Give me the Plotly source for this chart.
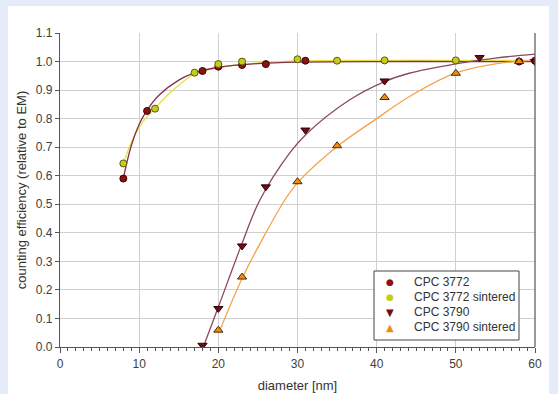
import plotly.graph_objects as go

# ---- data ----
cpc3772_x = [8, 11, 18, 20, 23, 26, 31, 58, 60]
cpc3772_y = [0.590, 0.827, 0.967, 0.982, 0.988, 0.991, 1.003, 1.000, 1.003]

cpc3772s_x = [8, 12, 17, 20, 23, 30, 35, 41, 50]
cpc3772s_y = [0.643, 0.835, 0.961, 0.991, 1.000, 1.008, 1.003, 1.004, 1.004]

cpc3790_x = [18, 20, 23, 26, 31, 41, 53, 60]
cpc3790_y = [0.006, 0.135, 0.354, 0.561, 0.760, 0.932, 1.014, 1.000]

cpc3790s_x = [20, 23, 30, 35, 41, 50, 58]
cpc3790s_y = [0.059, 0.245, 0.579, 0.705, 0.874, 0.959, 1.000]

# fitted curves
fit3772_x = [8, 9, 10, 11, 12.5, 15, 17, 20, 25, 30, 40, 50, 60]
fit3772_y = [0.591, 0.705, 0.780, 0.830, 0.882, 0.935, 0.960, 0.980, 0.993, 0.998, 1.000, 1.000, 1.000]

fit3772s_x = [8, 9.25, 10.5, 12, 14, 16.8, 20, 25, 30, 40, 50, 60]
fit3772s_y = [0.643, 0.731, 0.790, 0.836, 0.893, 0.953, 0.978, 0.995, 1.002, 1.004, 1.004, 1.004]

fit3790_x = [18.1, 20, 23, 25.25, 29, 31, 36.6, 41, 44.1, 50, 55, 60]
fit3790_y = [0.000, 0.140, 0.363, 0.515, 0.679, 0.743, 0.866, 0.930, 0.959, 0.992, 1.012, 1.026]

fit3790s_x = [20.2, 23.1, 26, 28.4, 30, 35, 40, 44, 50, 55, 60]
fit3790s_y = [0.059, 0.246, 0.400, 0.515, 0.575, 0.702, 0.800, 0.875, 0.960, 0.992, 1.005]

x_ticks = [0, 10, 20, 30, 40, 50, 60]
y_ticks = [0.0, 0.1, 0.2, 0.3, 0.4, 0.5, 0.6, 0.7, 0.8, 0.9, 1.0, 1.1]

series_names = ["CPC 3772", "CPC 3772 sintered", "CPC 3790", "CPC 3790 sintered"]
series_colors = ["#8b1212", "#c4cc1e", "#6e0c18", "#f08c14"]
series_edges = ["#3a0505", "#5a5a08", "#2e0208", "#4a2a05"]
series_symbols = ["circle", "circle", "triangle-down", "triangle-up"]
legend_glyphs = ["●", "●", "▼", "▲"]

fig = go.Figure()

# fit lines
for fx, fy, col in [
    (fit3772s_x, fit3772s_y, "#e6df3c"),
    (fit3772_x, fit3772_y, "#84304c"),
    (fit3790_x, fit3790_y, "#8a4866"),
    (fit3790s_x, fit3790s_y, "#f6a24e"),
]:
    fig.add_trace(go.Scatter(x=fx, y=fy, mode="lines", showlegend=False,
                             line=dict(color=col, width=1.3, shape="spline", smoothing=1),
                             hoverinfo="skip"))

# markers
for (xs, ys), name, col, edge, sym in zip(
        [(cpc3772_x, cpc3772_y), (cpc3772s_x, cpc3772s_y),
         (cpc3790_x, cpc3790_y), (cpc3790s_x, cpc3790s_y)],
        series_names, series_colors, series_edges, series_symbols):
    fig.add_trace(go.Scatter(x=xs, y=ys, mode="markers", name=name, showlegend=False,
                             marker=dict(symbol=sym, size=7 if sym == "circle" else 8,
                                         color=col, line=dict(color=edge, width=1))))

L, R, T, B = 60, 23, 33, 47
W, H = 558, 394
pw, ph = W - L - R, H - T - B


def px(x):
    return (x - L) / pw


def py(y):
    return (H - B - y) / ph


# white chart area behind the plot
fig.add_shape(type="rect", xref="paper", yref="paper",
              x0=px(8), x1=px(549), y0=py(396), y1=py(6),
              fillcolor="white", line=dict(width=0), layer="below")
# right frame line
fig.add_shape(type="line", xref="paper", yref="paper", x0=1, x1=1, y0=0, y1=1,
              line=dict(color="#555555", width=1.2))

# legend box (compact, as in the reference)
fig.add_shape(type="rect", xref="paper", yref="paper",
              x0=px(374), x1=px(519), y0=py(340), y1=py(271),
              fillcolor="white", line=dict(color="#444444", width=1))
row_y = [282, 297, 312, 327]
for i, name in enumerate(series_names):
    fig.add_annotation(xref="paper", yref="paper", x=px(390), y=py(row_y[i]),
                       text=legend_glyphs[i], showarrow=False, xanchor="center", yanchor="middle",
                       font=dict(size=9 if i < 2 else 10, color=series_colors[i],
                                 family="DejaVu Sans"))
    fig.add_annotation(xref="paper", yref="paper", x=px(412), y=py(row_y[i]),
                       text=name, showarrow=False, xanchor="left", yanchor="middle",
                       font=dict(size=12, color="#333333"))

fig.update_layout(
    width=W, height=H,
    margin=dict(l=L, r=R, t=T, b=B, autoexpand=False),
    paper_bgcolor="#e6ebfa",
    plot_bgcolor="white",
    font=dict(family="Liberation Sans, Arial, sans-serif", size=12, color="#333333"),
    showlegend=False,
)

fig.update_xaxes(
    range=[0, 60], tickvals=x_ticks, showgrid=True, gridcolor="#d0d0d0", gridwidth=1,
    zeroline=False, showline=True, linecolor="#555555", linewidth=1.2,
    ticks="outside", ticklen=5, tickcolor="#555555",
    tickfont=dict(size=12, color="#404040"),
    minor=dict(dtick=1, ticks="outside", ticklen=3, tickcolor="#555555", showgrid=False),
    automargin=False,
    title=dict(text="diameter [nm]", font=dict(size=13, color="#333333"), standoff=11),
)
fig.update_yaxes(
    range=[0, 1.1], tickvals=y_ticks, tickformat=".1f", showgrid=True,
    gridcolor="#d0d0d0", gridwidth=1, zeroline=False,
    showline=True, linecolor="#555555", linewidth=1.2,
    ticks="outside", ticklen=4, tickcolor="#555555",
    tickfont=dict(size=12, color="#404040"),
    automargin=False,
    title=dict(text="counting efficiency (relative to EM)", font=dict(size=13, color="#333333"),
               standoff=6),
)

fig.write_html("out.html", config={"displayModeBar": False},
               post_script="document.body.style.margin='0';document.body.style.background='#e6ebfa';")
